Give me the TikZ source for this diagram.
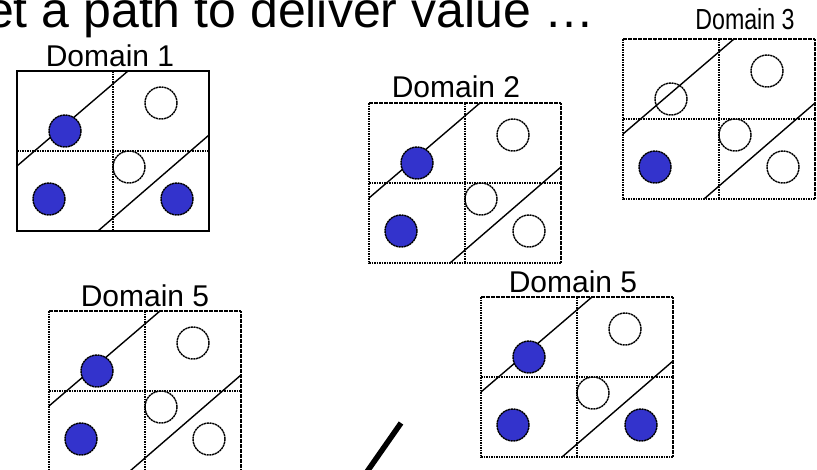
\documentclass[tikz,border=0pt]{standalone}
\usepackage{fontspec}
\setmainfont{Liberation Sans}
\definecolor{tokenblue}{HTML}{3333CC}
\tikzset{
  gridline/.style={line width=1.5pt, dash pattern=on 1.6pt off 0.9pt},
  framesolid/.style={line width=1.8pt},
  framedotted/.style={gridline},
  diag/.style={line width=1.4pt},
  token/.style={circle, minimum size=32pt, inner sep=0pt, line width=1.4pt,
                dash pattern=on 2.2pt off 0.6pt, draw=black},
  full/.style={token, fill=tokenblue},
  empty/.style={token},
  dlabel/.style={anchor=base, inner sep=0pt, font=\fontsize{30}{36}\selectfont},
  slash/.style={line width=5.5pt, line cap=butt},
}
% one 2x2 domain panel: #1 id, #2/#3 top-left corner, #4 frame style,
% #5..#9 styles of the five tokens
\newcommand\domainpanel[9]{%
  \begin{scope}[shift={(#2,#3)}]
    \draw[diag] (0,95) -- (111,0);
    \draw[diag] (81,160) -- (192,64);
    \draw[gridline] (96,0) -- (96,160) (0,80) -- (192,80);
    \draw[#4] (0,0) rectangle (192,160);
    \node[#5] (#1-a) at (48,60) {};
    \node[#6] (#1-b) at (144,32) {};
    \node[#7] (#1-c) at (112,96) {};
    \node[#8] (#1-d) at (32,128) {};
    \node[#9] (#1-e) at (160,128) {};
  \end{scope}}
\begin{document}
\begin{tikzpicture}[x=1pt, y=-1pt]
  \useasboundingbox (0,0) rectangle (817,469);
  \fill[white] (0,0) rectangle (817,469);

  % heading, partly cut by the page edge
  \node[anchor=base west, inner sep=0pt, font=\fontsize{50}{60}\selectfont]
    (title) at (-14,27) {et a path to deliver value …};

  % domains
  \domainpanel{d1}{17}{71}{framesolid}{full}{empty}{empty}{full}{full}
  \node[dlabel] (d1-label) at (110,66) {Domain 1};

  \domainpanel{d2}{369}{103}{framedotted}{full}{empty}{empty}{full}{empty}
  \node[dlabel] (d2-label) at (456,97) {Domain 2};

  \domainpanel{d3}{623}{39}{framedotted}{empty}{empty}{empty}{full}{empty}
  \node[dlabel, font=\fontsize{29}{34}\selectfont, xscale=0.8] (d3-label) at (745,29) {Domain 3};

  \domainpanel{d5a}{49}{311}{framedotted}{full}{empty}{empty}{full}{empty}
  \node[dlabel] (d5a-label) at (145,306) {Domain 5};

  \domainpanel{d5b}{481}{297}{framedotted}{full}{empty}{empty}{full}{full}
  \node[dlabel] (d5b-label) at (573,292) {Domain 5};

  % heavy stroke near the bottom edge
  \coordinate (s-top) at (401,423);
  \coordinate (s-bot) at (364,476);
  \draw[slash] (s-top) -- (s-bot);
\end{tikzpicture}
\end{document}
